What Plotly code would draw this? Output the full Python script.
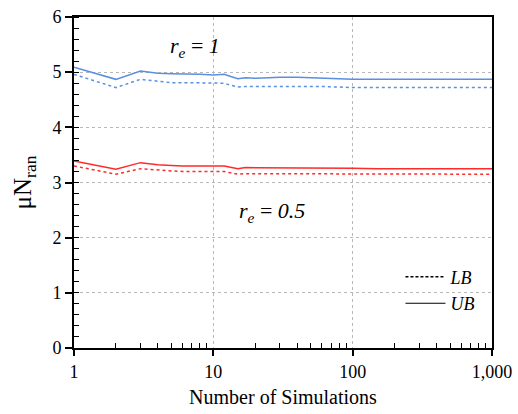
import plotly.graph_objects as go

# Number of simulations
n_sims = [1, 2, 3, 4, 5, 6, 8, 10, 12, 13, 15, 17, 20, 25, 30, 40, 50, 60, 80, 100, 150, 200, 300, 500, 700, 1000]

# r_e = 1
ub_re1 = [5.09, 4.87, 5.02, 4.98, 4.97, 4.97, 4.96, 4.95, 4.96, 4.93, 4.88, 4.90, 4.89, 4.90, 4.91, 4.91, 4.90, 4.89, 4.88, 4.87, 4.87, 4.87, 4.86, 4.87, 4.87, 4.87]
lb_re1 = [4.96, 4.72, 4.87, 4.83, 4.81, 4.81, 4.81, 4.80, 4.80, 4.77, 4.73, 4.74, 4.74, 4.75, 4.75, 4.75, 4.74, 4.74, 4.73, 4.72, 4.72, 4.72, 4.72, 4.72, 4.72, 4.72]

# r_e = 0.5
ub_re05 = [3.39, 3.24, 3.36, 3.32, 3.31, 3.30, 3.30, 3.30, 3.30, 3.28, 3.25, 3.27, 3.27, 3.27, 3.27, 3.27, 3.27, 3.26, 3.26, 3.26, 3.25, 3.25, 3.25, 3.25, 3.25, 3.25]
lb_re05 = [3.30, 3.15, 3.25, 3.22, 3.21, 3.20, 3.20, 3.20, 3.20, 3.18, 3.15, 3.16, 3.16, 3.16, 3.16, 3.16, 3.16, 3.16, 3.15, 3.15, 3.15, 3.15, 3.15, 3.15, 3.15, 3.15]

x_tickvals = [1, 10, 100, 1000]
x_ticktext = ["1", "10", "100", "1,000"]
y_tickvals = [0, 1, 2, 3, 4, 5, 6]

x_minor = [m * d for d in (1, 10, 100) for m in range(2, 10)]
y_minor = [round(i * 0.2, 1) for i in range(31)]

BLUE = "#5b8fe0"
RED = "#ff2a2a"
SERIF = "Liberation Serif"

fig = go.Figure()
fig.add_trace(go.Scatter(x=n_sims, y=ub_re1, mode="lines", line=dict(color=BLUE, width=1.5), showlegend=False))
fig.add_trace(go.Scatter(x=n_sims, y=lb_re1, mode="lines", line=dict(color=BLUE, width=1.5, dash="dot"), showlegend=False))
fig.add_trace(go.Scatter(x=n_sims, y=ub_re05, mode="lines", line=dict(color=RED, width=1.5), showlegend=False))
fig.add_trace(go.Scatter(x=n_sims, y=lb_re05, mode="lines", line=dict(color=RED, width=1.5, dash="dot"), showlegend=False))

# legend entries
fig.add_trace(go.Scatter(x=[None], y=[None], mode="lines", name="<i>LB</i>", line=dict(color="black", width=1.5, dash="3px,2px")))
fig.add_trace(go.Scatter(x=[None], y=[None], mode="lines", name="<i>UB</i>", line=dict(color="black", width=1.2)))

fig.add_annotation(x=0.87, y=5.45, xref="x", yref="y", text="<i>r<sub>e</sub></i> = <i>1</i>",
                   showarrow=False, font=dict(family=SERIF, size=22, color="black"))
fig.add_annotation(x=1.42, y=2.47, xref="x", yref="y", text="<i>r<sub>e</sub></i> = <i>0.5</i>",
                   showarrow=False, font=dict(family=SERIF, size=22, color="black"))

grid_common = dict(showgrid=True, gridcolor="#b8b8b8", griddash="3px,3px", gridwidth=1)

fig.update_layout(
    width=518, height=414,
    margin=dict(l=74, r=26, t=17, b=66),
    paper_bgcolor="white", plot_bgcolor="white",
    font=dict(family=SERIF, size=18, color="black"),
    legend=dict(x=0.97, y=0.27, xanchor="right", yanchor="top",
                bgcolor="rgba(0,0,0,0)", font=dict(family=SERIF, size=18),
                tracegroupgap=0, itemwidth=40),
    xaxis=dict(
        type="log", range=[0, 3], automargin=False,
        tickvals=x_tickvals, ticktext=x_ticktext,
        ticks="outside", ticklen=6, tickwidth=1.5, tickcolor="black",
        showline=True, linecolor="black", linewidth=2, mirror=True,
        minor=dict(tickmode="array", tickvals=x_minor, ticks="inside", ticklen=5,
                   tickcolor="black", tickwidth=1, showgrid=False),
        title=dict(text="Number of Simulations", font=dict(family=SERIF, size=20), standoff=9),
        zeroline=False,
        **grid_common,
    ),
    yaxis=dict(
        range=[0, 6], automargin=False,
        tickvals=y_tickvals,
        ticks="outside", ticklen=7, tickwidth=1.5, tickcolor="black",
        showline=True, linecolor="black", linewidth=2, mirror=True,
        minor=dict(tickmode="array", tickvals=y_minor, ticks="inside", ticklen=5,
                   tickcolor="black", tickwidth=1, showgrid=False),
        title=dict(text="μN<sub>ran</sub>", font=dict(family=SERIF, size=25), standoff=14),
        zeroline=False,
        **grid_common,
    ),
)

fig.write_html("out.html")
